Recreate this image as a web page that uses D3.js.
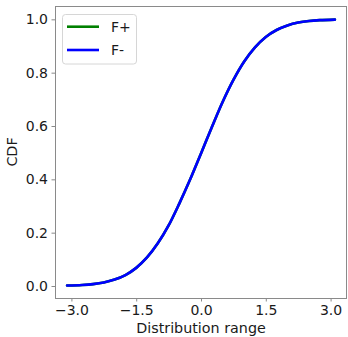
<!DOCTYPE html>
<html>
<head>
<meta charset="utf-8">
<script src="https://cdn.jsdelivr.net/npm/d3@7"></script>
<style>
  html, body { margin: 0; padding: 0; background: #fff; }
  svg { display: block; }
  text { font-family: "DejaVu Sans", sans-serif; }
</style>
</head>
<body>
<svg id="chart" width="348" height="337"></svg>
<script>
// Sampled CDF values along the distribution range
const xValues  = [-3.1, -2.75, -2.5, -2.25, -2.0, -1.75, -1.5, -1.25, -1.0, -0.75, -0.5, -0.25, 0.0, 0.25, 0.5, 0.75, 1.0, 1.25, 1.5, 1.75, 2.0, 2.25, 2.5, 2.75, 3.1];
const cdfPlus  = [0.002, 0.004, 0.007, 0.013, 0.024, 0.041, 0.068, 0.107, 0.16, 0.227, 0.31, 0.4, 0.497, 0.595, 0.69, 0.773, 0.842, 0.895, 0.934, 0.96, 0.977, 0.988, 0.994, 0.997, 0.999];
const cdfMinus = [0.002, 0.004, 0.007, 0.013, 0.024, 0.041, 0.068, 0.107, 0.16, 0.227, 0.31, 0.4, 0.497, 0.595, 0.69, 0.773, 0.842, 0.895, 0.934, 0.96, 0.977, 0.988, 0.994, 0.997, 0.999];
const seriesNames = ["F+", "F-"];
const seriesColors = ["#008000", "#0000ff"];
const xTicks = [-3.0, -1.5, 0.0, 1.5, 3.0];
const yTicks = [0.0, 0.2, 0.4, 0.6, 0.8, 1.0];

const frame = { left: 55, right: 347, top: 6, bottom: 298 };
const svg = d3.select("#chart");

const x = d3.scaleLinear().domain([-3.38, 3.38]).range([frame.left, frame.right]);
const y = d3.scaleLinear().domain([-0.045, 1.05]).range([frame.bottom, frame.top]);

const fmt = d3.format(".1f");
const tickFmt = v => fmt(v).replace("-", "\u2212");

// Axes
const xAxis = svg.append("g")
  .attr("transform", `translate(0,${frame.bottom})`)
  .call(d3.axisBottom(x).tickValues(xTicks).tickFormat(tickFmt).tickSizeOuter(0).tickSize(3.5).tickPadding(4));
const yAxis = svg.append("g")
  .attr("transform", `translate(${frame.left},0)`)
  .call(d3.axisLeft(y).tickValues(yTicks).tickFormat(tickFmt).tickSizeOuter(0).tickSize(3.5).tickPadding(3.5));

[xAxis, yAxis].forEach(g => {
  g.select(".domain").remove();
  g.selectAll(".tick line").attr("stroke", "#8a8a8a").attr("stroke-width", 1);
  g.selectAll(".tick text").attr("fill", "#1a1a1a").style("font-size", "14px");
});

// Plot frame
svg.append("rect")
  .attr("x", frame.left + 0.5).attr("y", frame.top + 0.5)
  .attr("width", frame.right - frame.left - 1).attr("height", frame.bottom - frame.top)
  .attr("fill", "none").attr("stroke", "#8a8a8a").attr("stroke-width", 1);

// Curves
const series = [cdfPlus, cdfMinus];
const line = d3.line()
  .x(d => x(d[0]))
  .y(d => y(d[1]))
  .curve(d3.curveCatmullRom.alpha(0.5));

series.forEach((vals, i) => {
  svg.append("path")
    .datum(xValues.map((xv, k) => [xv, vals[k]]))
    .attr("d", line)
    .attr("fill", "none")
    .attr("stroke", seriesColors[i])
    .attr("stroke-width", 2.6)
    .attr("stroke-linecap", "round");
});

// Axis titles
svg.append("text")
  .attr("x", (frame.left + frame.right) / 2)
  .attr("y", 333)
  .attr("text-anchor", "middle")
  .attr("fill", "#1a1a1a")
  .style("font-size", "14.3px")
  .text("Distribution range");

svg.append("text")
  .attr("transform", `translate(17,${(frame.top + frame.bottom) / 2}) rotate(-90)`)
  .attr("text-anchor", "middle")
  .attr("fill", "#1a1a1a")
  .style("font-size", "14.3px")
  .text("CDF");

// Legend
const legend = svg.append("g");
legend.append("rect")
  .attr("x", 62.5).attr("y", 14.5).attr("width", 74).attr("height", 49.5)
  .attr("rx", 3).attr("fill", "#fff").attr("fill-opacity", 0.8)
  .attr("stroke", "#d6d6d6").attr("stroke-width", 1);
seriesNames.forEach((name, i) => {
  const ly = 26.7 + i * 23.3;
  legend.append("line")
    .attr("x1", 67).attr("x2", 99).attr("y1", ly).attr("y2", ly)
    .attr("stroke", seriesColors[i]).attr("stroke-width", 2.6);
  legend.append("text")
    .attr("x", 111).attr("y", ly + 5.2)
    .attr("fill", "#1a1a1a")
    .style("font-size", "14px")
    .text(name);
});
</script>
</body>
</html>
